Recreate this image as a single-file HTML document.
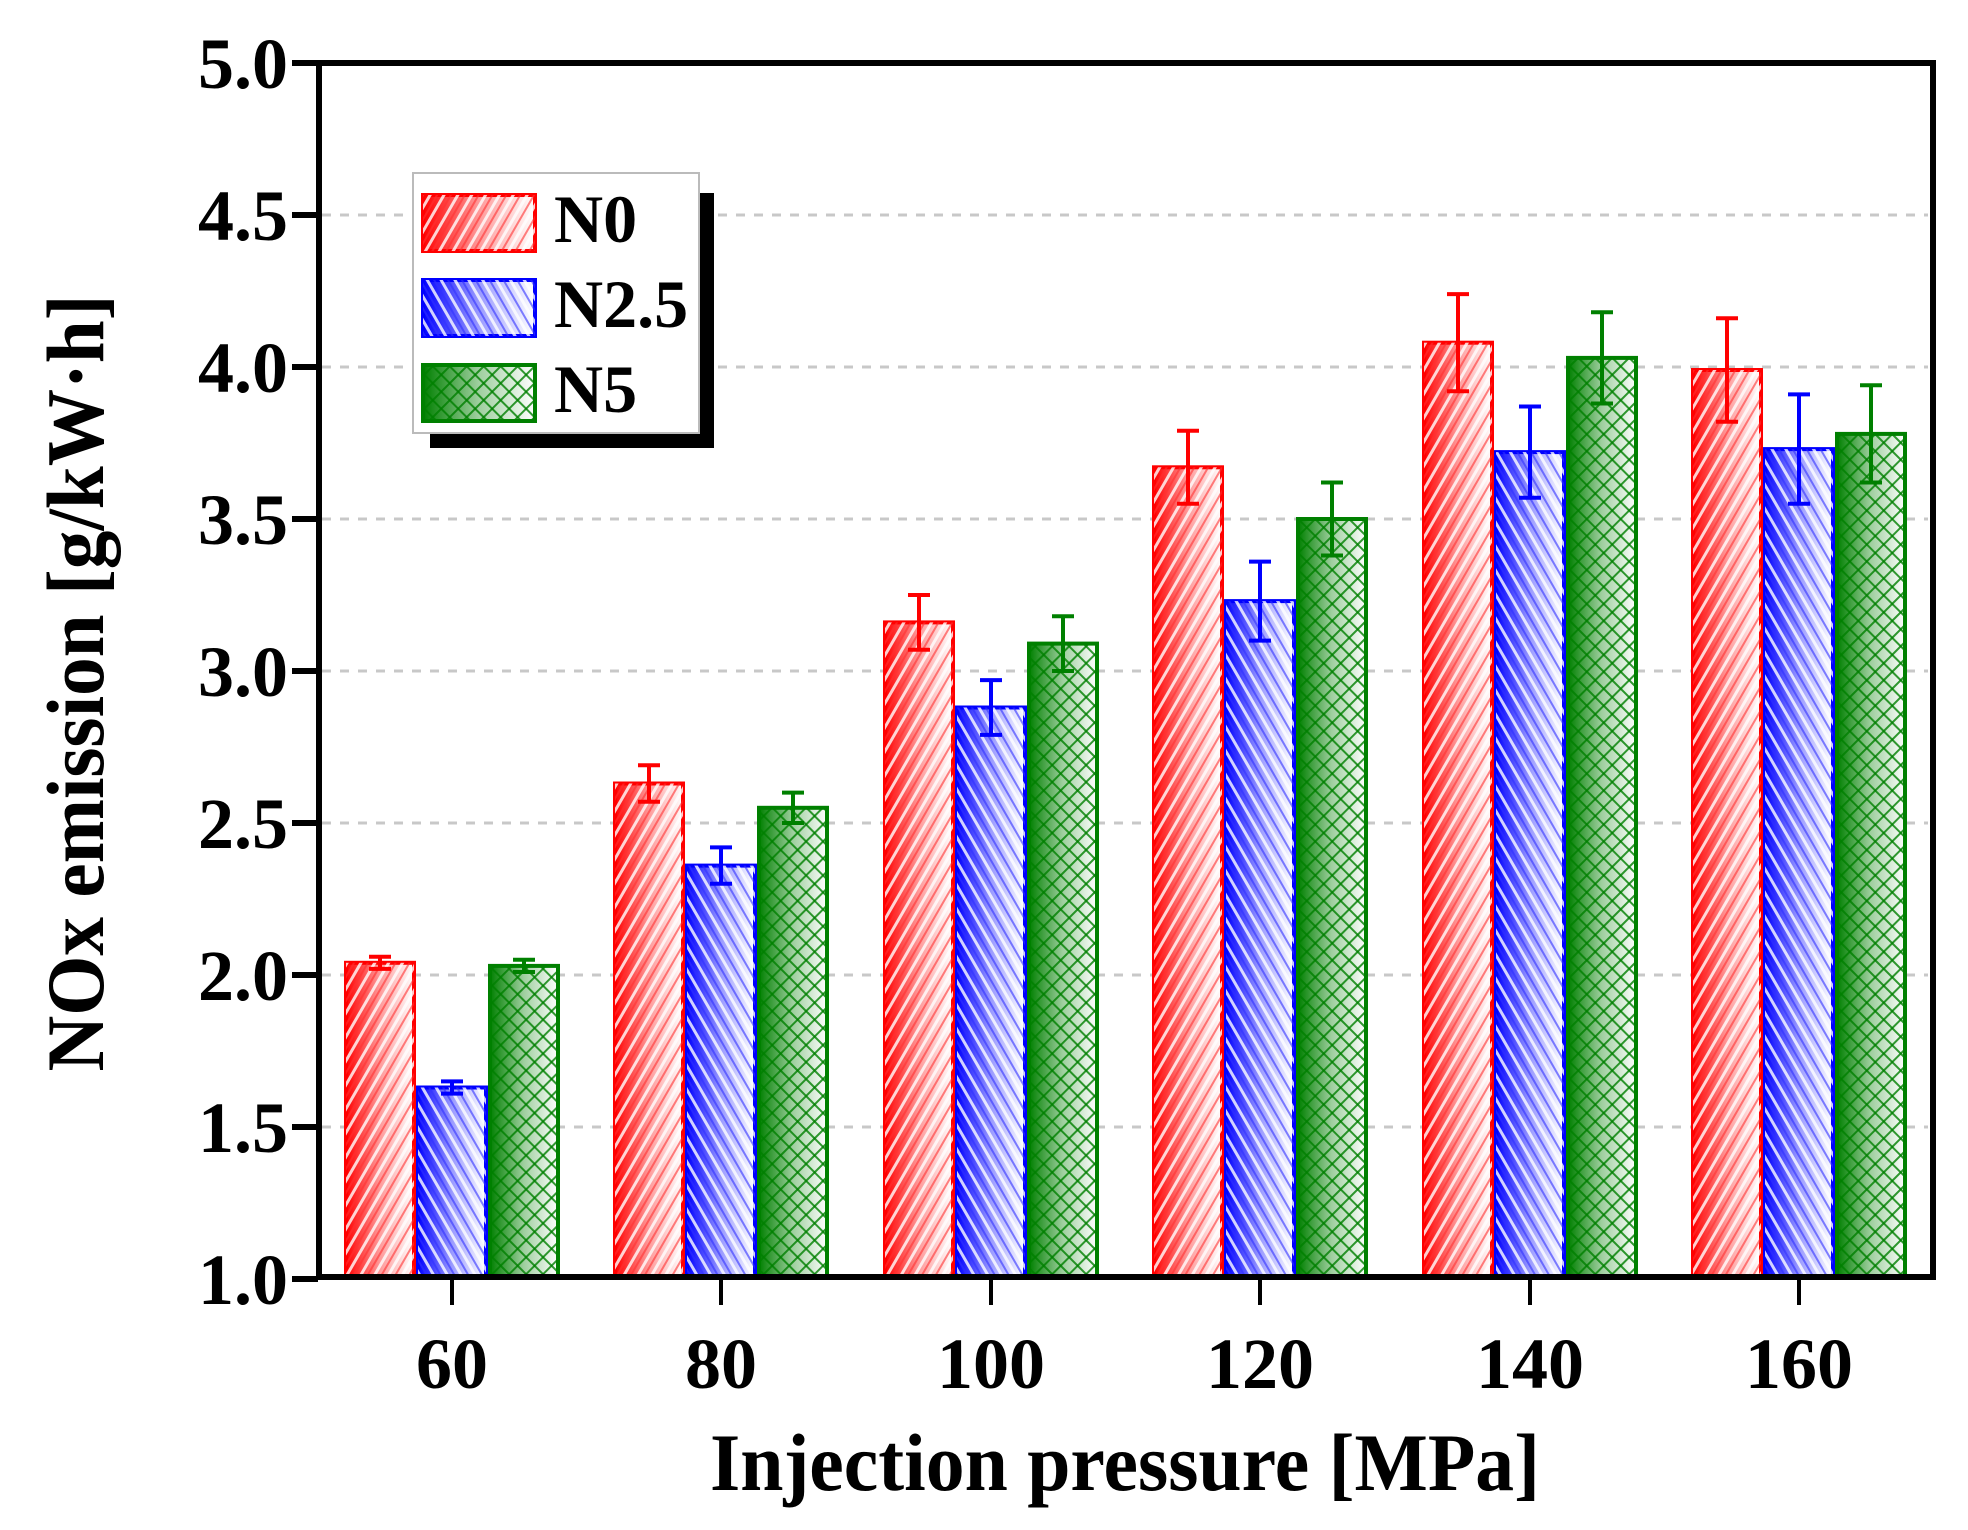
<!DOCTYPE html>
<html><head><meta charset="utf-8"><style>
html,body{margin:0;padding:0;background:#fff;}
svg{display:block;}
text{font-family:"Liberation Serif",serif;font-weight:bold;fill:#000;}
</style></head><body>
<svg width="1968" height="1530" viewBox="0 0 1968 1530" xmlns="http://www.w3.org/2000/svg">
<defs>
<linearGradient id="gr" x1="0" x2="1" y1="0" y2="0"><stop offset="0" stop-color="#ff0000"/><stop offset="0.5" stop-color="#ff9a9a"/><stop offset="1" stop-color="#ffffff"/></linearGradient>
<linearGradient id="gb" x1="0" x2="1" y1="0" y2="0"><stop offset="0" stop-color="#0000ff"/><stop offset="0.5" stop-color="#9a9aff"/><stop offset="1" stop-color="#ffffff"/></linearGradient>
<linearGradient id="gg" x1="0" x2="1" y1="0" y2="0"><stop offset="0" stop-color="#008000"/><stop offset="0.5" stop-color="#9fcf9f"/><stop offset="1" stop-color="#ffffff"/></linearGradient>
<pattern id="hr" width="12" height="12" patternUnits="userSpaceOnUse" patternTransform="rotate(30)"><line x1="2" y1="0" x2="2" y2="12" stroke="#fff" stroke-width="3" opacity="0.8"/><line x1="8" y1="0" x2="8" y2="12" stroke="#ff3030" stroke-width="2" opacity="0.6"/></pattern>
<pattern id="hb" width="12" height="12" patternUnits="userSpaceOnUse" patternTransform="rotate(-30)"><line x1="2" y1="0" x2="2" y2="12" stroke="#fff" stroke-width="3" opacity="0.8"/><line x1="8" y1="0" x2="8" y2="12" stroke="#3030ff" stroke-width="2" opacity="0.6"/></pattern>
<pattern id="hg" width="12" height="12" patternUnits="userSpaceOnUse" patternTransform="rotate(45)"><line x1="1" y1="0" x2="1" y2="12" stroke="#008000" stroke-width="2" opacity="0.8"/><line x1="0" y1="1" x2="12" y2="1" stroke="#008000" stroke-width="2" opacity="0.8"/></pattern>
</defs>

<g stroke="#c8c8c8" stroke-width="3" stroke-dasharray="9,9">
<line x1="322" x2="1928" y1="215" y2="215"/>
<line x1="322" x2="1928" y1="367" y2="367"/>
<line x1="322" x2="1928" y1="519" y2="519"/>
<line x1="322" x2="1928" y1="671" y2="671"/>
<line x1="322" x2="1928" y1="823" y2="823"/>
<line x1="322" x2="1928" y1="975" y2="975"/>
<line x1="322" x2="1928" y1="1127" y2="1127"/>
</g>

<!-- bars -->
<g stroke-width="4">
<!-- 60 -->
<rect x="346" y="962.8" width="68" height="314.2" fill="url(#gr)" stroke="#f00"/><rect x="346" y="962.8" width="68" height="314.2" fill="url(#hr)" stroke="none"/>
<rect x="418" y="1087.5" width="68" height="189.5" fill="url(#gb)" stroke="#00f"/><rect x="418" y="1087.5" width="68" height="189.5" fill="url(#hb)" stroke="none"/>
<rect x="490" y="965.9" width="68" height="311.1" fill="url(#gg)" stroke="#008000"/><rect x="490" y="965.9" width="68" height="311.1" fill="url(#hg)" stroke="none"/>
<!-- 80 -->
<rect x="615" y="783.5" width="68" height="493.5" fill="url(#gr)" stroke="#f00"/><rect x="615" y="783.5" width="68" height="493.5" fill="url(#hr)" stroke="none"/>
<rect x="687" y="865.6" width="68" height="411.4" fill="url(#gb)" stroke="#00f"/><rect x="687" y="865.6" width="68" height="411.4" fill="url(#hb)" stroke="none"/>
<rect x="759" y="807.8" width="68" height="469.2" fill="url(#gg)" stroke="#008000"/><rect x="759" y="807.8" width="68" height="469.2" fill="url(#hg)" stroke="none"/>
<!-- 100 -->
<rect x="885" y="622.4" width="68" height="654.6" fill="url(#gr)" stroke="#f00"/><rect x="885" y="622.4" width="68" height="654.6" fill="url(#hr)" stroke="none"/>
<rect x="957" y="707.5" width="68" height="569.5" fill="url(#gb)" stroke="#00f"/><rect x="957" y="707.5" width="68" height="569.5" fill="url(#hb)" stroke="none"/>
<rect x="1029" y="643.6" width="68" height="633.4" fill="url(#gg)" stroke="#008000"/><rect x="1029" y="643.6" width="68" height="633.4" fill="url(#hg)" stroke="none"/>
<!-- 120 -->
<rect x="1154" y="467.3" width="68" height="809.7" fill="url(#gr)" stroke="#f00"/><rect x="1154" y="467.3" width="68" height="809.7" fill="url(#hr)" stroke="none"/>
<rect x="1226" y="601.1" width="68" height="675.9" fill="url(#gb)" stroke="#00f"/><rect x="1226" y="601.1" width="68" height="675.9" fill="url(#hb)" stroke="none"/>
<rect x="1298" y="519" width="68" height="758" fill="url(#gg)" stroke="#008000"/><rect x="1298" y="519" width="68" height="758" fill="url(#hg)" stroke="none"/>
<!-- 140 -->
<rect x="1424" y="342.7" width="68" height="934.3" fill="url(#gr)" stroke="#f00"/><rect x="1424" y="342.7" width="68" height="934.3" fill="url(#hr)" stroke="none"/>
<rect x="1496" y="452.1" width="68" height="824.9" fill="url(#gb)" stroke="#00f"/><rect x="1496" y="452.1" width="68" height="824.9" fill="url(#hb)" stroke="none"/>
<rect x="1568" y="357.9" width="68" height="919.1" fill="url(#gg)" stroke="#008000"/><rect x="1568" y="357.9" width="68" height="919.1" fill="url(#hg)" stroke="none"/>
<!-- 160 -->
<rect x="1693" y="370" width="68" height="907" fill="url(#gr)" stroke="#f00"/><rect x="1693" y="370" width="68" height="907" fill="url(#hr)" stroke="none"/>
<rect x="1765" y="449.1" width="68" height="827.9" fill="url(#gb)" stroke="#00f"/><rect x="1765" y="449.1" width="68" height="827.9" fill="url(#hb)" stroke="none"/>
<rect x="1837" y="433.9" width="68" height="843.1" fill="url(#gg)" stroke="#008000"/><rect x="1837" y="433.9" width="68" height="843.1" fill="url(#hg)" stroke="none"/>
</g>

<!-- error bars -->
<g stroke="#f00" stroke-width="4" fill="none">
<path d="M380 956.7V968.9M369 956.7H391M369 968.9H391"/>
<path d="M649 765.3V801.7M638 765.3H660M638 801.7H660"/>
<path d="M919 595V649.8M908 595H930M908 649.8H930"/>
<path d="M1188 430.8V503.8M1177 430.8H1199M1177 503.8H1199"/>
<path d="M1458 294.1V391.3M1447 294.1H1469M1447 391.3H1469"/>
<path d="M1727 318.3V421.7M1716 318.3H1738M1716 421.7H1738"/>
</g>
<g stroke="#00f" stroke-width="4" fill="none">
<path d="M452 1081.4V1093.6M441 1081.4H463M441 1093.6H463"/>
<path d="M721 847.4V883.8M710 847.4H732M710 883.8H732"/>
<path d="M991 680.1V734.9M980 680.1H1002M980 734.9H1002"/>
<path d="M1260 561.6V640.6M1249 561.6H1271M1249 640.6H1271"/>
<path d="M1530 406.5V497.7M1519 406.5H1541M1519 497.7H1541"/>
<path d="M1799 394.4V503.8M1788 394.4H1810M1788 503.8H1810"/>
</g>
<g stroke="#008000" stroke-width="4" fill="none">
<path d="M524 959.8V972M513 959.8H535M513 972H535"/>
<path d="M793 792.6V823M782 792.6H804M782 823H804"/>
<path d="M1063 616.2V671M1052 616.2H1074M1052 671H1074"/>
<path d="M1332 482.5V555.5M1321 482.5H1343M1321 555.5H1343"/>
<path d="M1602 312.3V403.5M1591 312.3H1613M1591 403.5H1613"/>
<path d="M1871 385.3V482.5M1860 385.3H1882M1860 482.5H1882"/>
</g>

<!-- axes -->
<rect x="319" y="63" width="1614" height="1214" fill="none" stroke="#000" stroke-width="6"/>
<g stroke="#000" stroke-width="6">
<line x1="292" x2="318" y1="63" y2="63"/><line x1="292" x2="318" y1="215" y2="215"/>
<line x1="292" x2="318" y1="367" y2="367"/><line x1="292" x2="318" y1="519" y2="519"/>
<line x1="292" x2="318" y1="671" y2="671"/><line x1="292" x2="318" y1="823" y2="823"/>
<line x1="292" x2="318" y1="975" y2="975"/><line x1="292" x2="318" y1="1127" y2="1127"/>
<line x1="292" x2="318" y1="1279" y2="1279"/>
</g>
<g stroke="#000" stroke-width="4">
<line x1="452" x2="452" y1="1277" y2="1305"/><line x1="721" x2="721" y1="1277" y2="1305"/>
<line x1="991" x2="991" y1="1277" y2="1305"/><line x1="1260" x2="1260" y1="1277" y2="1305"/>
<line x1="1530" x2="1530" y1="1277" y2="1305"/><line x1="1799" x2="1799" y1="1277" y2="1305"/>
</g>
<g font-size="72" text-anchor="end">
<text x="288" y="88">5.0</text><text x="288" y="240">4.5</text><text x="288" y="392">4.0</text>
<text x="288" y="544">3.5</text><text x="288" y="696">3.0</text><text x="288" y="848">2.5</text>
<text x="288" y="1000">2.0</text><text x="288" y="1152">1.5</text><text x="288" y="1304">1.0</text>
</g>
<g font-size="72" text-anchor="middle">
<text x="452" y="1388">60</text><text x="721" y="1388">80</text><text x="991" y="1388">100</text>
<text x="1260" y="1388">120</text><text x="1530" y="1388">140</text><text x="1799" y="1388">160</text>
</g>
<text x="1125" y="1490" font-size="82" text-anchor="middle" textLength="830" lengthAdjust="spacingAndGlyphs">Injection pressure [MPa]</text>
<text transform="translate(103,683) rotate(-90)" font-size="82" text-anchor="middle" textLength="777" lengthAdjust="spacingAndGlyphs">NOx emission [g/kW·h]</text>

<!-- legend -->
<rect x="430" y="193" width="284" height="255" fill="#000"/>
<rect x="413" y="173" width="286" height="260" fill="#fff" stroke="#bbb" stroke-width="2"/>
<rect x="423" y="195" width="112" height="56" fill="url(#gr)" stroke="#f00" stroke-width="4"/><rect x="423" y="195" width="112" height="56" fill="url(#hr)"/>
<rect x="423" y="280" width="112" height="56" fill="url(#gb)" stroke="#00f" stroke-width="4"/><rect x="423" y="280" width="112" height="56" fill="url(#hb)"/>
<rect x="423" y="365" width="112" height="56" fill="url(#gg)" stroke="#008000" stroke-width="4"/><rect x="423" y="365" width="112" height="56" fill="url(#hg)"/>
<g font-size="68"><text x="554" y="242">N0</text><text x="554" y="327">N2.5</text><text x="554" y="412">N5</text></g>
</svg>
</body></html>
